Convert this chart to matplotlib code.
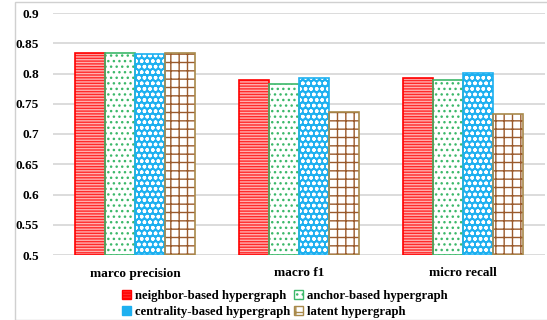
import numpy as np
import matplotlib.pyplot as plt
from matplotlib.patches import Patch, Rectangle

categories = ['marco precision', 'macro f1', 'micro recall']
series_names = ['neighbor-based hypergraph', 'anchor-based hypergraph',
                'centrality-based hypergraph', 'latent hypergraph']
neighbor = [0.834, 0.789, 0.792]
anchor = [0.834, 0.783, 0.789]
centrality = [0.832, 0.792, 0.801]
latent = [0.834, 0.736, 0.733]
yticks = [0.5, 0.55, 0.6, 0.65, 0.7, 0.75, 0.8, 0.85, 0.9]

plt.rcParams['font.family'] = ['Liberation Serif', 'DejaVu Serif']
plt.rcParams['font.weight'] = 'bold'
plt.rcParams['hatch.linewidth'] = 1.0

# (face, hatch, hatch colour, edge)
styles = [
    ('#ff2a2a', '------', '#ffb0b0', '#ff0000'),
    ('white', '...', '#3cb86a', '#3cb86a'),
    ('#1eb0f0', 'ooo', 'white', '#1eb0f0'),
    ('white', '++', '#9a5a2c', '#a8894a'),
]

fig = plt.figure(figsize=(5.47, 3.2), dpi=100)
fig.patches.append(Rectangle((15 / 547, 0), 1, 318 / 320, transform=fig.transFigure,
                             fill=False, edgecolor='#d0d0d0', linewidth=1))
ax = fig.add_axes([53 / 547, 65 / 320, 492 / 547, 242 / 320])

x = np.arange(len(categories))
w = 0.183
data = [neighbor, anchor, centrality, latent]
for i, vals in enumerate(data):
    face, hatch, hc, edge = styles[i]
    pos = x + (i - 1.5) * w
    heights = np.array(vals) - 0.5
    ax.bar(pos, heights, w, bottom=0.5, color=face, linewidth=0, zorder=2)
    ax.bar(pos, heights, w, bottom=0.5, fill=False, hatch=hatch,
           edgecolor=hc, linewidth=0, zorder=3)
    ax.bar(pos, heights, w, bottom=0.5, fill=False, edgecolor=edge,
           linewidth=1.2, zorder=4)

ax.set_xlim(-0.5, 2.5)
ax.set_ylim(0.5, 0.9)
ax.set_yticks(yticks)
ax.set_yticklabels([('%g' % t) for t in yticks], fontsize=9.5)
ax.set_xticks(x)
ax.set_xticklabels(categories, fontsize=9.5)
ax.tick_params(length=0, axis='y', pad=10)
ax.tick_params(length=0, axis='x', pad=9)
ax.grid(axis='y', color='#d9d9d9', linewidth=1.3, zorder=0)
ax.set_axisbelow(True)
for s in ax.spines.values():
    s.set_visible(False)

# legend fills by column, so order: neighbor, centrality, anchor, latent
handles = []
for i in [0, 2, 1, 3]:
    face, hatch, hc, edge = styles[i]
    handles.append(Patch(facecolor=face, edgecolor=edge, hatch=hatch,
                         label=series_names[i]))
leg = fig.legend(handles=handles, ncol=2, loc='upper left',
                 bbox_to_anchor=(116 / 547, 1 - 284 / 320), frameon=False,
                 fontsize=9.2, handlelength=0.7, handleheight=0.7,
                 handletextpad=0.3, columnspacing=0.3, labelspacing=0.25,
                 borderpad=0)

fig.savefig('out.png', dpi=100)
